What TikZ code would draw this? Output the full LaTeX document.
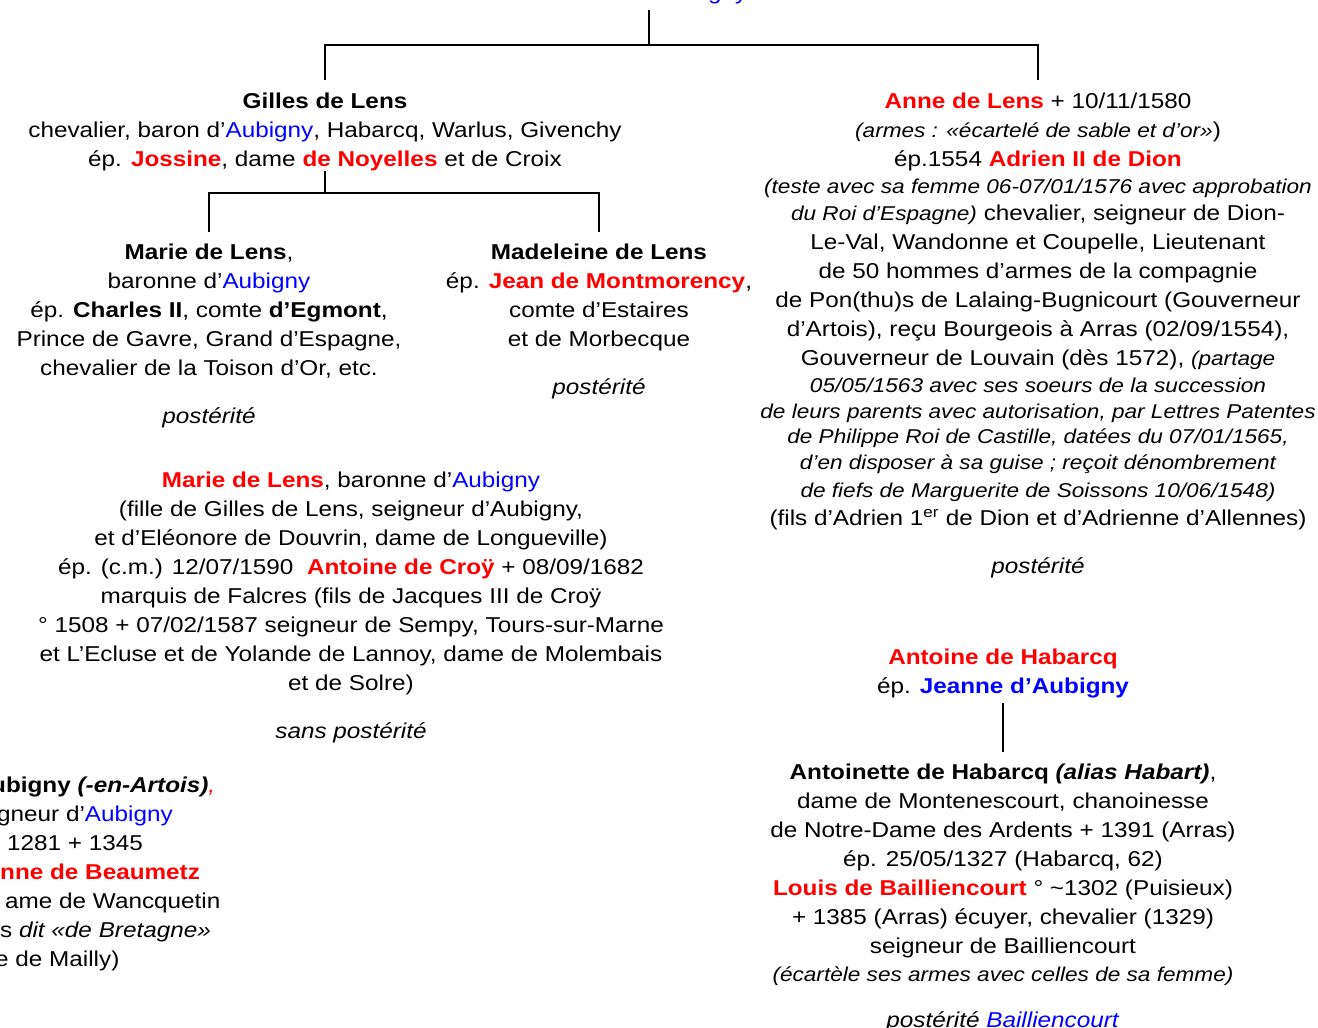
\documentclass[tikz,border=0pt]{standalone}
\usepackage{fontspec}
\setmainfont{Liberation Sans}[FakeStretch=1.13]
\usetikzlibrary{calc}

\newcommand\rd[1]{\textcolor{red}{\textbf{#1}}}
\newcommand\au[1]{\textcolor{blue}{#1}}
\newcommand\nt[1]{{\fontsize{20}{26}\selectfont\itshape #1}}

\tikzset{
	tree/.style={line width=2.4pt},
	person/.style={align=center, inner sep=0pt, anchor=north},
}

\begin{document}
\begin{tikzpicture}[x=1pt, y=-1pt, font=\fontsize{21.5}{29}\selectfont]

	\path[fill=white, use as bounding box] (0,0) rectangle (1318,1028);

	\node[person, anchor=base, text=blue] (parents) at (694,-1) {d’Aubigny};

	\node[person] (gilles) at (325,92.3) {%
		\textbf{Gilles de Lens}\\
		chevalier, baron d’\au{Aubigny}, Habarcq, Warlus, Givenchy\\
		ép. \rd{Jossine}, dame \rd{de Noyelles} et de Croix};

	\node[person] (anne) at (1038,92.3) {%
		\rd{Anne de Lens} + 10/11/1580\\
		\nt{(armes : «écartelé de sable et d’or»})\\
		ép.1554 \rd{Adrien II de Dion}\\[-2pt]
		\nt{(teste avec sa femme 06-07/01/1576 avec approbation}\\[-2pt]
		\nt{du Roi d’Espagne)} chevalier, seigneur de Dion-\\
		Le-Val, Wandonne et Coupelle, Lieutenant\\
		de 50 hommes d’armes de la compagnie\\
		de Pon(thu)s de Lalaing-Bugnicourt (Gouverneur\\
		d’Artois), reçu Bourgeois à Arras (02/09/1554),\\
		Gouverneur de Louvain (dès 1572), \nt{(partage}\\[-2pt]
		\nt{05/05/1563 avec ses soeurs de la succession}\\[-3pt]
		\nt{de leurs parents avec autorisation, par Lettres Patentes}\\[-4pt]
		\nt{de Philippe Roi de Castille, datées du 07/01/1565,}\\[-3pt]
		\nt{d’en disposer à sa guise ; reçoit dénombrement}\\[-1pt]
		\nt{de fiefs de Marguerite de Soissons 10/06/1548)}\\[-1pt]
		(fils d’Adrien 1\textsuperscript{er} de Dion et d’Adrienne d’Allennes)\\[19pt]
		\textit{postérité}};

	\node[person] (marie) at (209,243.3) {%
		\textbf{Marie de Lens},\\
		baronne d’\au{Aubigny}\\
		ép. \textbf{Charles II}, comte \textbf{d’Egmont},\\
		Prince de Gavre, Grand d’Espagne,\\
		chevalier de la Toison d’Or, etc.\\[19pt]
		\textit{postérité}};

	\node[person] (madeleine) at (599,243.3) {%
		\textbf{Madeleine de Lens}\\
		ép. \rd{Jean de Montmorency},\\
		comte d’Estaires\\
		et de Morbecque\\[19pt]
		\textit{postérité}};

	\node[person] (croy) at (351,471.3) {%
		\rd{Marie de Lens}, baronne d’\au{Aubigny}\\
		(fille de Gilles de Lens, seigneur d’Aubigny,\\
		et d’Eléonore de Douvrin, dame de Longueville)\\
		ép. (c.m.) 12/07/1590\ \ \rd{Antoine de Croÿ} + 08/09/1682\\
		marquis de Falcres (fils de Jacques III de Croÿ\\
		° 1508 + 07/02/1587 seigneur de Sempy, Tours-sur-Marne\\
		et L’Ecluse et de Yolande de Lannoy, dame de Molembais\\
		et de Solre)\\[19pt]
		\textit{sans postérité}};

	\node[align=left, inner sep=0pt, anchor=north west] (aubigny) at (0,776.3) {%
		\hspace*{-9pt}\textbf{ubigny \textit{(-en-Artois)}}\textcolor{red}{\textit{,}}\\
		\hspace*{-3pt}gneur d’\au{Aubigny}\\
		\hspace*{7pt}1281 + 1345\\
		\rd{nne de Beaumetz}\\
		\hspace*{5pt}ame de Wancquetin\\
		s \textit{dit «de Bretagne»}\\
		\hspace*{-5pt}e de Mailly)};

	\node[person] (habarcq) at (1003,648.3) {%
		\rd{Antoine de Habarcq}\\
		ép. \au{\textbf{Jeanne d’Aubigny}}};

	\node[person] (antoinette) at (1003,763.3) {%
		\textbf{Antoinette de Habarcq \textit{(alias Habart)}},\\
		dame de Montenescourt, chanoinesse\\
		de Notre-Dame des Ardents + 1391 (Arras)\\
		ép. 25/05/1327 (Habarcq, 62)\\
		\rd{Louis de Bailliencourt} ° \textasciitilde1302 (Puisieux)\\
		+ 1385 (Arras) écuyer, chevalier (1329)\\
		seigneur de Bailliencourt\\[-1pt]
		\nt{(écartèle ses armes avec celles de sa femme)}\\[17pt]
		\textit{postérité} \au{\textit{Bailliencourt}}};

	\coordinate (parentfoot) at (649,10);
	\coordinate (topbar) at (649,45);
	\coordinate (kidsbar) at ($(gilles.south)+(0,22)$);

	\draw[tree] (parentfoot) -- (topbar);
	\draw[tree, shorten <=12pt, shorten >=12pt] (gilles.north) |- (topbar) -| (anne.north);
	\draw[tree] (gilles.south) -- (kidsbar);
	\draw[tree, shorten <=11pt, shorten >=11pt] (marie.north) |- (kidsbar) -| (madeleine.north);
	\draw[tree, shorten <=5pt, shorten >=11pt] (habarcq.south) -- (antoinette.north);

\end{tikzpicture}
\end{document}
